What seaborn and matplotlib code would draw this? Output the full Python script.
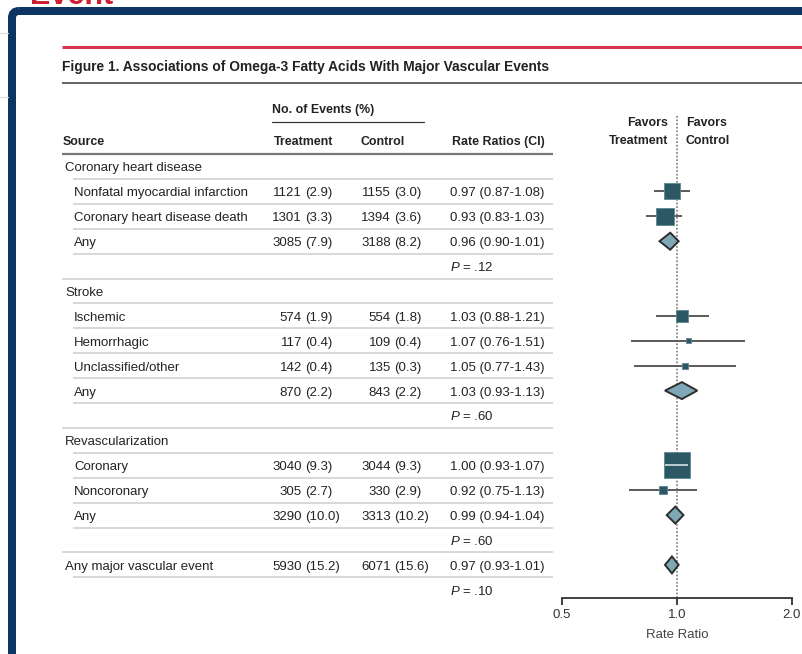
import numpy as np
import pandas as pd
import matplotlib
matplotlib.use("Agg")
import matplotlib.pyplot as plt
import seaborn as sns
from matplotlib.patches import Polygon, FancyBboxPatch

# ---- table data -------------------------------------------------------
row_labels = ["Coronary heart disease", "Nonfatal myocardial infarction",
              "Coronary heart disease death", "Any", "",
              "Stroke", "Ischemic", "Hemorrhagic", "Unclassified/other", "Any", "",
              "Revascularization", "Coronary", "Noncoronary", "Any", "",
              "Any major vascular event", ""]
row_kinds = ["group", "sub", "sub", "total", "p",
             "group", "sub", "sub", "sub", "total", "p",
             "group", "sub", "sub", "total", "p",
             "overall", "p"]
treat_n = [None, 1121, 1301, 3085, None,
           None, 574, 117, 142, 870, None,
           None, 3040, 305, 3290, None,
           5930, None]
treat_pct = [None, 2.9, 3.3, 7.9, None,
             None, 1.9, 0.4, 0.4, 2.2, None,
             None, 9.3, 2.7, 10.0, None,
             15.2, None]
ctrl_n = [None, 1155, 1394, 3188, None,
          None, 554, 109, 135, 843, None,
          None, 3044, 330, 3313, None,
          6071, None]
ctrl_pct = [None, 3.0, 3.6, 8.2, None,
            None, 1.8, 0.4, 0.3, 2.2, None,
            None, 9.3, 2.9, 10.2, None,
            15.6, None]
rate_ratio = [None, 0.97, 0.93, 0.96, None,
              None, 1.03, 1.07, 1.05, 1.03, None,
              None, 1.00, 0.92, 0.99, None,
              0.97, None]
ci_low = [None, 0.87, 0.83, 0.90, None,
          None, 0.88, 0.76, 0.77, 0.93, None,
          None, 0.93, 0.75, 0.94, None,
          0.93, None]
ci_high = [None, 1.08, 1.03, 1.01, None,
           None, 1.21, 1.51, 1.43, 1.13, None,
           None, 1.07, 1.13, 1.04, None,
           1.01, None]
p_text = [None, None, None, None, ".12",
          None, None, None, None, None, ".60",
          None, None, None, None, ".60",
          None, ".10"]

axis_ticks = [0.5, 1.0, 2.0]
axis_ticklabels = ["0.5", "1.0", "2.0"]
title_text = "Figure 1. Associations of Omega-3 Fatty Acids With Major Vascular Events"

# ---- style ------------------------------------------------------------
sns.set_theme(style="white")
plt.rcParams["font.family"] = ["Liberation Sans", "DejaVu Sans"]
plt.rcParams["mathtext.fontset"] = "custom"
plt.rcParams["mathtext.it"] = "Liberation Sans:italic"
plt.rcParams["mathtext.rm"] = "Liberation Sans"

INK = "#232323"
NAVY = "#0c3563"
BOX = "#2c5866"
DIAMOND = "#7ea8b6"
PX = 0.72  # points per pixel at 100 dpi

W, H = 803, 654
fig = plt.figure(figsize=(W / 100, H / 100), dpi=100)
fig.patch.set_facecolor("white")

bg = fig.add_axes([0, 0, 1, 1])
bg.set_xlim(0, W)
bg.set_ylim(H, 0)
bg.axis("off")

# page furniture around the figure panel
bg.text(30, 4, "Event", color="#cc1f2f", fontsize=22, fontweight="bold",
        ha="left", va="baseline")
for yy in (33, 97):
    bg.plot([0, 8], [yy, yy], color="#dddddd", lw=1.2 * PX)
bg.add_patch(FancyBboxPatch((12, 11), W + 40, H + 40,
                            boxstyle="round,pad=0,rounding_size=7",
                            facecolor="none", edgecolor=NAVY, lw=8 * PX))

# title block
bg.plot([62, W], [47, 47], color="#d8344c", lw=3 * PX, solid_capstyle="butt")
bg.text(62, 67, title_text, fontsize=9.9, fontweight="bold", color="#222222",
        ha="left", va="center")
bg.plot([62, W], [83, 83], color="#555555", lw=1.8 * PX, solid_capstyle="butt")

# column headers
hdr = dict(fontsize=8.9, fontweight="bold", color=INK, va="center")
bg.text(272, 110, "No. of Events (%)", ha="left", **hdr)
bg.plot([272, 424], [122, 122], color="#333333", lw=1.2 * PX)
bg.text(63, 142, "Source", ha="left", **hdr)
bg.text(274, 142, "Treatment", ha="left", **hdr)
bg.text(361, 142, "Control", ha="left", **hdr)
bg.text(452, 142, "Rate Ratios (CI)", ha="left", **hdr)
bg.plot([62, 553], [154, 154], color="#777777", lw=2.2 * PX, solid_capstyle="butt")
bg.text(668, 123, "Favors", ha="right", **hdr)
bg.text(668, 141, "Treatment", ha="right", **hdr)
bg.text(686, 123, "Favors", ha="left", **hdr)
bg.text(686, 141, "Control", ha="left", **hdr)

# table body
ROW0, DY = 166.5, 24.9
row_y = ROW0 + DY * np.arange(len(row_labels))
body = dict(fontsize=9.5, color=INK, va="baseline")
BASE = 5.0
n_rows = len(row_labels)
for i in range(n_rows):
    y = row_y[i]
    kind = row_kinds[i]
    if kind in ("group", "overall"):
        bg.text(65, y + BASE, row_labels[i], ha="left", **body)
    elif kind in ("sub", "total"):
        bg.text(74, y + BASE, row_labels[i], ha="left", **body)
    if treat_n[i] is not None:
        bg.text(302, y + BASE, f"{treat_n[i]}", ha="right", **body)
        bg.text(305.5, y + BASE, f"({treat_pct[i]:.1f})", ha="left", **body)
        bg.text(391, y + BASE, f"{ctrl_n[i]}", ha="right", **body)
        bg.text(394.5, y + BASE, f"({ctrl_pct[i]:.1f})", ha="left", **body)
        bg.text(450, y + BASE,
                f"{rate_ratio[i]:.2f} ({ci_low[i]:.2f}-{ci_high[i]:.2f})",
                ha="left", **body)
    if p_text[i] is not None:
        bg.text(450, y + BASE, f"$P$ = {p_text[i]}", ha="left", **body)
    # row separators
    if i < n_rows - 1:
        ys = y + DY / 2
        x0 = 62 if kind == "p" else 73
        bg.plot([x0, 553], [ys, ys], color="#d0d0d0", lw=1.6 * PX,
                solid_capstyle="butt")

# ---- forest plot ------------------------------------------------------
AX_L, AX_R, AX_T, AX_B = 562, 792, 100, 598
fa = fig.add_axes([AX_L / W, 1 - AX_B / H, (AX_R - AX_L) / W, (AX_B - AX_T) / H])
fa.patch.set_alpha(0)

df = pd.DataFrame({
    "kind": row_kinds, "rr": rate_ratio, "lo": ci_low, "hi": ci_high,
    "tn": treat_n, "cn": ctrl_n, "y": row_y,
})
est = df[df["rr"].notna()].copy()
est["events"] = est["tn"].astype(float) + est["cn"].astype(float)
boxes = est[est["kind"] == "sub"]
pooled = est[est["kind"] != "sub"]
max_events = boxes["events"].max()
MAX_AREA = 360.0

# confidence intervals for individual outcomes
fa.hlines(boxes["y"], boxes["lo"], boxes["hi"], color="#5a5a5a", lw=1.4,
          zorder=2)

# squares sized by number of events
sns.scatterplot(data=boxes, x="rr", y="y", size="events", sizes=(0, MAX_AREA),
                size_norm=(0, max_events), marker="s", color=BOX,
                edgecolor="#5d8794", linewidth=0.6, legend=False, ax=fa, zorder=3)

fa.set_xscale("log", base=2)
fa.set_xlim(axis_ticks[0], axis_ticks[-1])
fa.set_ylim(AX_B, AX_T)

# intervals that sit inside their square are drawn light on top of it
span = np.log2(axis_ticks[-1]) - np.log2(axis_ticks[0])


def to_px(v):
    return (np.log2(v) - np.log2(axis_ticks[0])) / span * (AX_R - AX_L)


for _, r in boxes.iterrows():
    half = np.sqrt(r["events"] / max_events * MAX_AREA) / PX / 2
    c = to_px(r["rr"])
    if to_px(r["lo"]) > c - half and to_px(r["hi"]) < c + half:
        fa.hlines(r["y"], r["lo"], r["hi"], color="#c8d6db", lw=1.3,
                  zorder=4)

# diamonds for pooled estimates
for _, r in pooled.iterrows():
    h = 8.5
    fa.add_patch(Polygon([(r["lo"], r["y"]), (r["rr"], r["y"] - h),
                          (r["hi"], r["y"]), (r["rr"], r["y"] + h)],
                         closed=True, facecolor=DIAMOND, edgecolor="#2e2e2e",
                         lw=1.4, zorder=3, joinstyle="miter"))

# line of no effect
fa.vlines(1.0, AX_B, 115, color="#8a8a8a", lw=1.3, linestyles=(0, (1, 1)),
          zorder=1)

for s in ("top", "left", "right"):
    fa.spines[s].set_visible(False)
fa.spines["bottom"].set_color("#333333")
fa.spines["bottom"].set_linewidth(1.3)
fa.set_yticks([])
fa.set_xticks(axis_ticks)
fa.set_xticklabels(axis_ticklabels)
fa.xaxis.set_minor_locator(matplotlib.ticker.NullLocator())
fa.tick_params(axis="x", direction="out", length=5, width=1.3, color="#333333",
               labelsize=9.5, labelcolor="#333333", pad=3, bottom=True)
fa.set_ylabel("")
fa.set_xlabel("Rate Ratio", fontsize=9.5, color="#444444", labelpad=6)

fig.savefig("out.png", dpi=100, facecolor="white")
